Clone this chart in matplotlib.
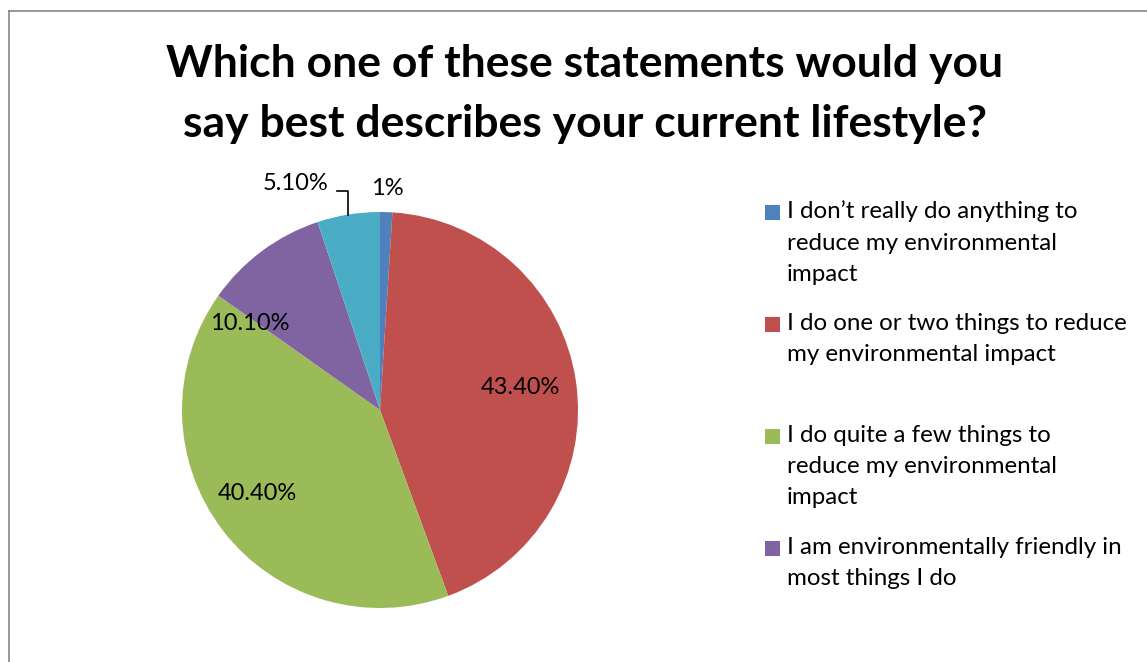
import matplotlib.pyplot as plt
from matplotlib.lines import Line2D
from matplotlib.patches import Rectangle
import numpy as np

plt.rcParams['font.family'] = ['Lato', 'DejaVu Sans']

title = "Which one of these statements would you\nsay best describes your current lifestyle?"

answers = [
    "I don\u2019t really do anything to\nreduce my environmental\nimpact",
    "I do one or two things to reduce\nmy environmental impact",
    "I do quite a few things to\nreduce my environmental\nimpact",
    "I am environmentally friendly in\nmost things I do",
    "I am environmentally friendly in\neverything I do",
]
shares = [1.0, 43.4, 40.4, 10.1, 5.1]
share_labels = ["1%", "43.40%", "40.40%", "10.10%", "5.10%"]
colors = ["#4F81BD", "#C0504D", "#9BBB59", "#8064A2", "#4BACC6"]

# where each value label sits: radius (pie units) and nudge off the slice middle (deg)
label_radius = [1.12, 0.72, 0.75, 0.79, 1.22]
label_nudge = [0, 0.6, -3.3, 19.7, 11.2]
legend_rows = 4

W, H = 1147, 662
fig = plt.figure(figsize=(W / 100, H / 100), dpi=100)

R = 198
cx, cy = 380, 410
ax = fig.add_axes([(cx - 1.2 * R) / W, (H - cy - 1.2 * R) / H, 2.4 * R / W, 2.4 * R / H])
wedges, _ = ax.pie(shares, colors=colors, startangle=90, counterclock=False,
                   radius=1, wedgeprops=dict(linewidth=0))
ax.set_xlim(-1.2, 1.2)
ax.set_ylim(-1.2, 1.2)
ax.axis('off')

for w, lab, r, nudge in zip(wedges, share_labels, label_radius, label_nudge):
    mid = np.deg2rad((w.theta1 + w.theta2) / 2 + nudge)
    ax.text(r * np.cos(mid), r * np.sin(mid), lab, ha='center', va='center',
            fontsize=17, color='black')

# leader line for the small teal slice
w = wedges[4]
mid = np.deg2rad((w.theta1 + w.theta2) / 2)
ex, ey = np.cos(mid), np.sin(mid)
ax.plot([ex, ex, ex - 0.06], [ey, 1.106, 1.106], color='black', lw=1.2,
        clip_on=False)

fig.text(585 / W, 1 - 94 / H, title, ha='center', va='center', fontsize=32,
         fontweight='bold', linespacing=1.59)

# legend drawn by hand so every entry gets the same slot height
for i in range(legend_rows):
    yc = 212 + 112 * i
    fig.add_artist(Rectangle((765 / W, 1 - (yc + 7.5) / H), 15 / W, 15 / H,
                             facecolor=colors[i], edgecolor='none',
                             transform=fig.transFigure))
    fig.text(787 / W, 1 - (yc - 11.5) / H, answers[i], ha='left', va='top',
             fontsize=17.4, linespacing=1.6)

# outer chart border
fig.add_artist(Line2D([8.5 / W, 8.5 / W], [1 - 11 / H, 0], color='#868686', lw=1.2,
                      transform=fig.transFigure))
fig.add_artist(Line2D([8.5 / W, 1], [1 - 11 / H, 1 - 11 / H], color='#868686', lw=1.2,
                      transform=fig.transFigure))

fig.savefig("out.png", dpi=100)
